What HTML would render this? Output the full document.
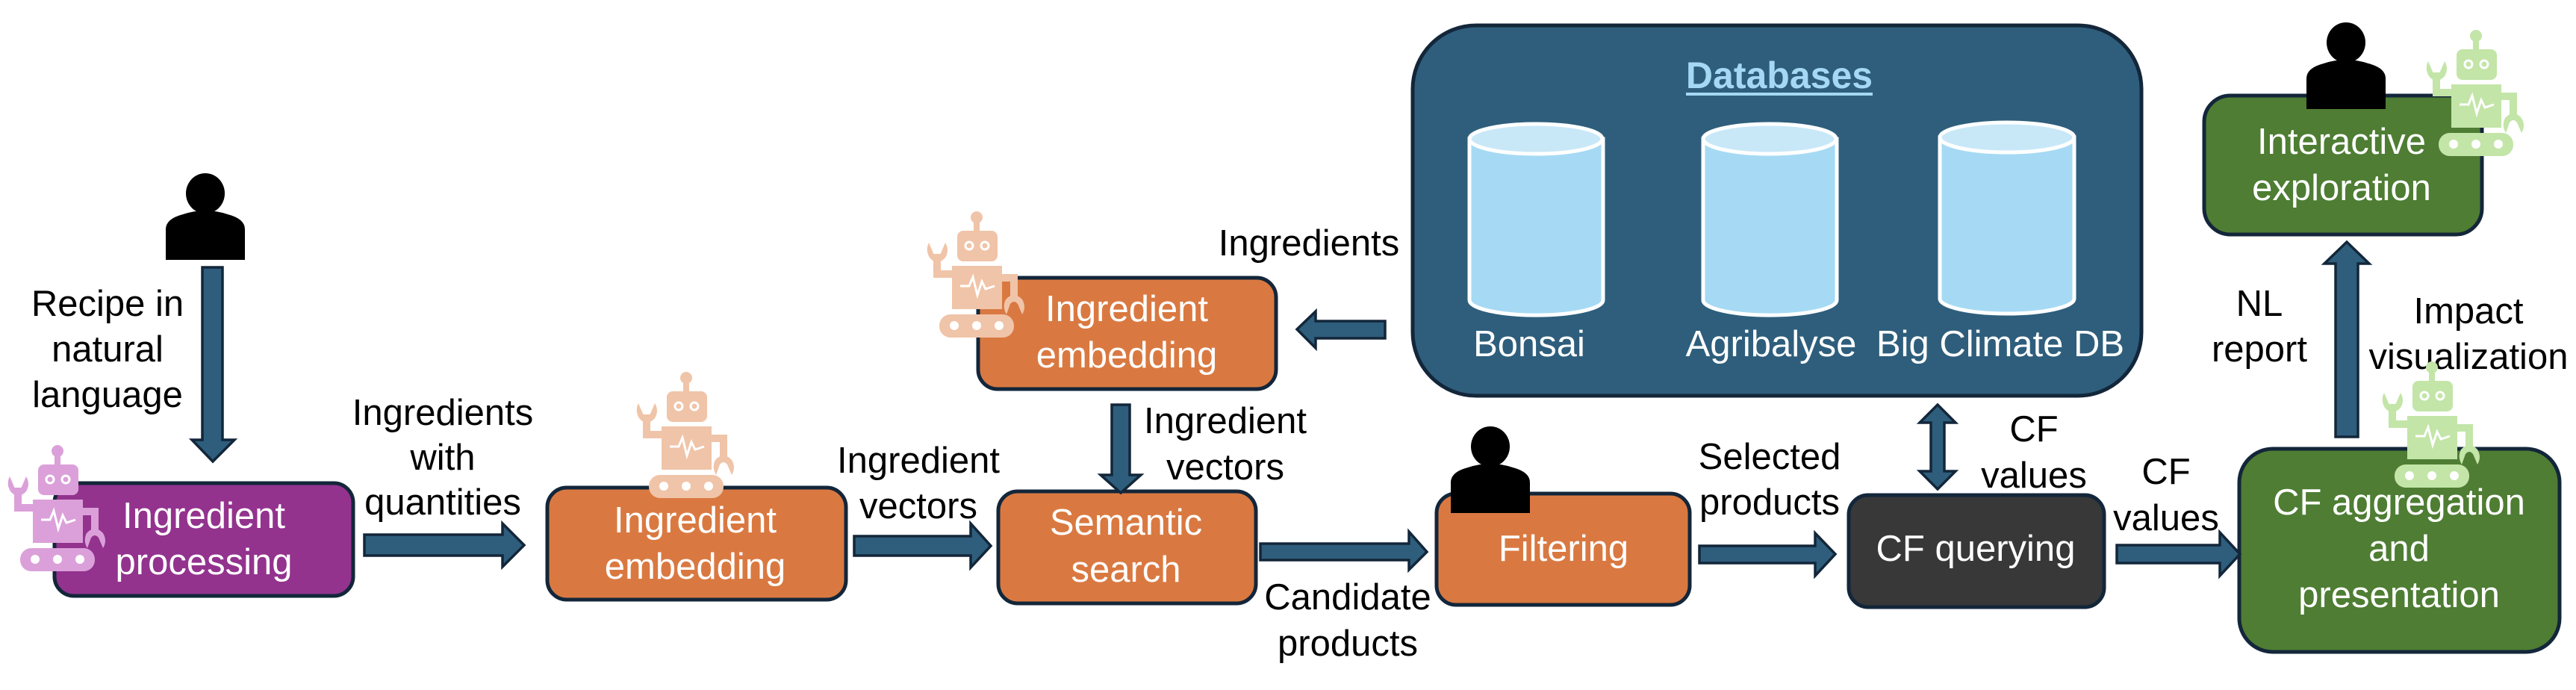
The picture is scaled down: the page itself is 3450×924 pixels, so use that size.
<!DOCTYPE html>
<html><head><meta charset="utf-8"><style>html,body{margin:0;padding:0;background:#fff}svg{display:block}</style></head>
<body>
<svg width="3450" height="924" viewBox="0 0 3450 924" xmlns="http://www.w3.org/2000/svg" font-family="Liberation Sans, sans-serif">
<defs>
<g id="robot">
  <circle cx="66" cy="8" r="8"/>
  <rect x="62" y="8" width="8" height="20"/>
  <rect x="40" y="26" width="54" height="41" rx="8"/>
  <rect x="33" y="73" width="67" height="58"/>
  <path d="M13 57 V84 H35" fill="none" stroke="currentColor" stroke-width="10"/>
  <path d="M98 89 H116 V117" fill="none" stroke="currentColor" stroke-width="10"/>
  <path d="M2 42 L8 56 Q12 64 18 56 L24 42 Q30 52 24 62 Q13 74 3 62 Q-3 52 2 42 Z"/>
  <path d="M106 138 L111 124 Q116 118 121 124 L127 138 Q133 128 127 118 Q116 106 105 118 Q100 128 106 138 Z"/>
  <rect x="16" y="138" width="100" height="31" rx="15"/>
  <g fill="#fff"><circle cx="36" cy="153" r="6"/><circle cx="66" cy="153" r="6"/><circle cx="96" cy="153" r="6"/></g>
  <circle cx="56" cy="46" r="5" fill="none" stroke="#fff" stroke-width="3"/>
  <circle cx="77" cy="46" r="5" fill="none" stroke="#fff" stroke-width="3"/>
  <polyline points="44,100 56,100 61,88 67,112 73,94 78,104 90,100" fill="none" stroke="#fff" stroke-width="3"/>
</g>
<g id="person">
  <ellipse cx="0" cy="0" rx="26" ry="27"/>
  <path d="M-53 89 V48 Q-53 34 -30 28 Q0 18 30 28 Q53 34 53 48 V89 Z"/>
</g>
</defs>
<style>
.t{font-size:49px;fill:#000;text-anchor:middle}
.w{font-size:49px;fill:#fff;text-anchor:middle}
.box{stroke:#13263a;stroke-width:5}
.ar{fill:#2e5e7c;stroke:#13263a;stroke-width:3.5}
</style>

<!-- Databases -->
<rect class="box" x="1892" y="34" width="976" height="496" rx="85" fill="#2e5e7c"/>
<text x="2383" y="118" font-size="50" font-weight="bold" fill="#a5d8f2" text-anchor="middle">Databases</text>
<rect x="2258" y="124" width="250" height="4" fill="#a5d8f2"/>
<g stroke="#fff" stroke-width="5">
  <path d="M1968 186 V402 A89 20 0 0 0 2147 402 V186 Z" fill="#a6daf4"/>
  <ellipse cx="2057" cy="186" rx="89" ry="20" fill="#c8e8f8"/>
  <path d="M2281 186 V402 A89 20 0 0 0 2460 402 V186 Z" fill="#a6daf4"/>
  <ellipse cx="2370" cy="186" rx="89" ry="20" fill="#c8e8f8"/>
  <path d="M2598 184 V400 A90 20 0 0 0 2778 400 V184 Z" fill="#a6daf4"/>
  <ellipse cx="2688" cy="184" rx="90" ry="20" fill="#c8e8f8"/>
</g>
<text class="w" x="2048" y="477">Bonsai</text>
<text class="w" x="2372" y="477">Agribalyse</text>
<text class="w" x="2679" y="477">Big Climate DB</text>

<!-- Boxes -->
<rect class="box" x="73" y="647" width="400" height="151" rx="26" fill="#93338e"/>
<text class="w" x="273" y="707">Ingredient</text><text class="w" x="273" y="769">processing</text>

<rect class="box" x="733" y="653" width="400" height="150" rx="26" fill="#d97941"/>
<text class="w" x="931" y="713">Ingredient</text><text class="w" x="931" y="775">embedding</text>

<rect class="box" x="1310" y="372" width="399" height="149" rx="26" fill="#d97941"/>
<text class="w" x="1509" y="430">Ingredient</text><text class="w" x="1509" y="492">embedding</text>

<rect class="box" x="1337" y="658" width="345" height="150" rx="26" fill="#d97941"/>
<text class="w" x="1508" y="716">Semantic</text><text class="w" x="1508" y="779">search</text>

<rect class="box" x="1924" y="661" width="339" height="149" rx="26" fill="#d97941"/>
<text class="w" x="2094" y="751">Filtering</text>

<rect class="box" x="2476" y="663" width="342" height="150" rx="26" fill="#383838"/>
<text class="w" x="2646" y="751">CF querying</text>

<rect class="box" x="2999" y="601" width="429" height="272" rx="45" fill="#4e7d33"/>
<text class="w" x="3213" y="689">CF aggregation</text><text class="w" x="3213" y="751">and</text><text class="w" x="3213" y="813">presentation</text>

<rect class="box" x="2952" y="128" width="372" height="186" rx="35" fill="#4e7d33"/>
<text class="w" x="3136" y="206">Interactive</text><text class="w" x="3136" y="268">exploration</text>

<!-- Arrows -->
<polygon class="ar" points="271,358 298,358 298,589 314,589 285,618 257,589 271,589"/>
<polygon class="ar" points="488,716 673,716 673,701 702,730 673,759 673,744 488,744"/>
<polygon class="ar" points="1144,718 1300,718 1300,701 1327,731 1300,760 1300,744 1144,744"/>
<polygon class="ar" points="1688,728 1887,728 1887,712 1911,739 1887,763 1887,750 1688,750"/>
<polygon class="ar" points="2276,731 2431,731 2431,714 2458,742 2431,771 2431,754 2276,754"/>
<polygon class="ar" points="2835,730 2973,730 2973,713 3000,742 2973,771 2973,754 2835,754"/>
<polygon class="ar" points="1855,430 1762,430 1762,417 1737,441 1762,466 1762,453 1855,453"/>
<polygon class="ar" points="1489,542 1513,542 1513,636 1528,636 1501,660 1474,636 1489,636"/>
<polygon class="ar" points="2595,542 2619,566 2604,566 2604,631 2619,631 2595,655 2571,631 2586,631 2586,566 2571,566"/>
<polygon class="ar" points="3128,585 3158,585 3158,353 3173,353 3143,324 3113,353 3128,353"/>

<!-- Labels -->
<text class="t" x="144" y="423">Recipe in</text><text class="t" x="144" y="484">natural</text><text class="t" x="144" y="545">language</text>
<text class="t" x="593" y="569">Ingredients</text><text class="t" x="593" y="629">with</text><text class="t" x="593" y="689">quantities</text>
<text class="t" x="1230" y="633">Ingredient</text><text class="t" x="1230" y="694">vectors</text>
<text class="t" x="1753" y="342">Ingredients</text>
<text class="t" x="1641" y="580">Ingredient</text><text class="t" x="1641" y="642">vectors</text>
<text class="t" x="1805" y="816">Candidate</text><text class="t" x="1805" y="878">products</text>
<text class="t" x="2370" y="628">Selected</text><text class="t" x="2370" y="689">products</text>
<text class="t" x="2724" y="591">CF</text><text class="t" x="2724" y="653">values</text>
<text class="t" x="2901" y="648">CF</text><text class="t" x="2901" y="710">values</text>
<text class="t" x="3026" y="423">NL</text><text class="t" x="3026" y="484">report</text>
<text class="t" x="3306" y="433">Impact</text><text class="t" x="3306" y="494">visualization</text>

<!-- Persons -->
<use href="#person" x="275" y="259"/>
<use href="#person" x="1996" y="598" transform="translate(1996,598) scale(1) translate(-1996,-598)"/>
<use href="#person" x="3142" y="57"/>

<!-- Robots -->
<use href="#robot" x="11" y="596" style="color:#dba0d9" fill="#dba0d9"/>
<use href="#robot" x="853" y="498" style="color:#f0c4a8" fill="#f0c4a8"/>
<use href="#robot" x="1242" y="283" style="color:#f0c4a8" fill="#f0c4a8"/>
<use href="#robot" x="3191" y="484" style="color:#c3e5a8" fill="#c3e5a8"/>
<use href="#robot" x="3250" y="40" style="color:#c3e5a8" fill="#c3e5a8"/>
</svg>
</body></html>
